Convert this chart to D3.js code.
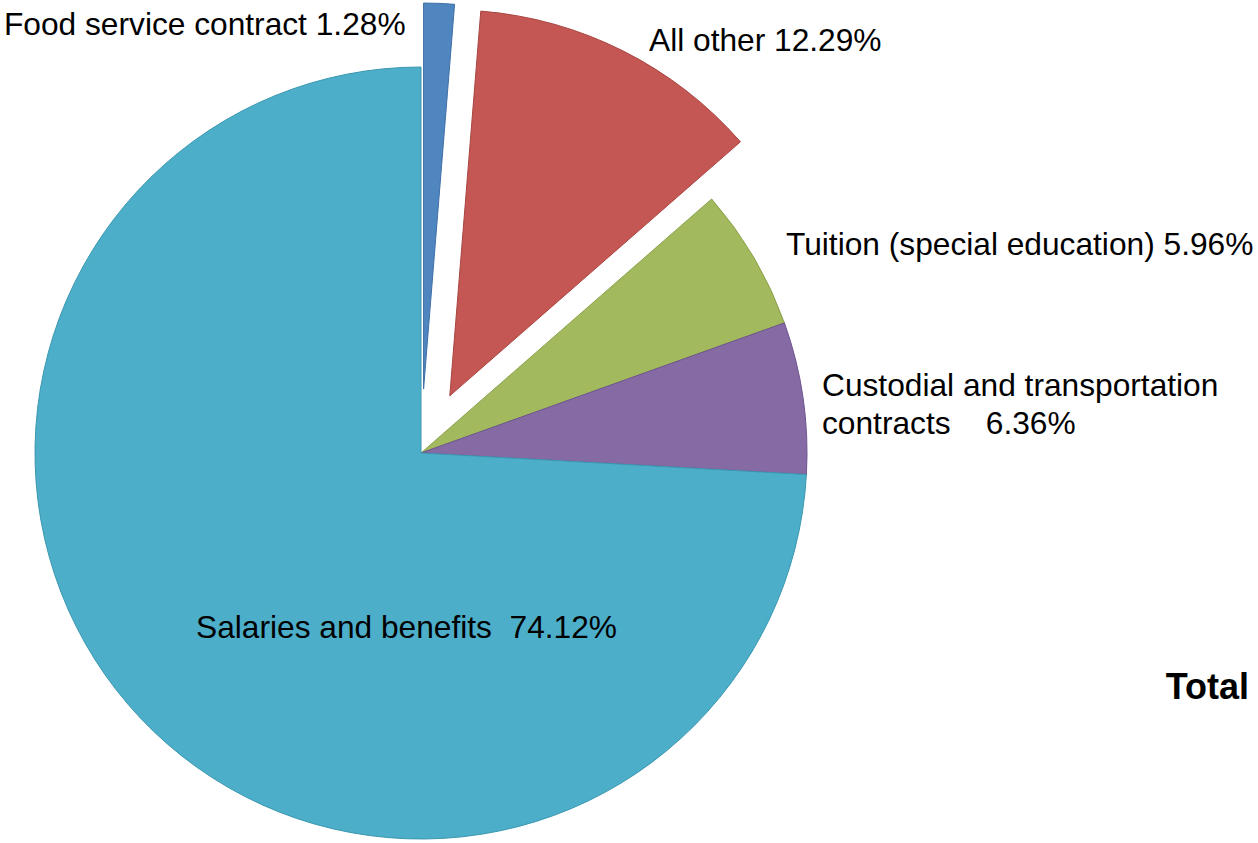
<!DOCTYPE html>
<html>
<head>
<meta charset="utf-8">
<script src="https://cdn.jsdelivr.net/npm/d3@7"></script>
<style>
  html, body { margin: 0; padding: 0; background: #ffffff; }
  svg { display: block; }
  text { font-family: "Liberation Sans", Arial, sans-serif; fill: #000; white-space: pre; }
</style>
</head>
<body>
<svg id="chart" width="1258" height="843"></svg>
<script>
// Spending categories, shares of total (percent), clockwise from 12 o'clock
const categories = [
  "Food service contract",
  "All other",
  "Tuition (special education)",
  "Custodial and transportation contracts",
  "Salaries and benefits"
];
const shares = [1.28, 12.29, 5.96, 6.36, 74.12];
const exploded = [true, true, false, false, false];
const title = "Total";

// Label text lines, with the share appended as drawn
const labelLines = [
  [v => `Food service contract ${v}%`],
  [v => `All other ${v}%`],
  [v => `Tuition (special education) ${v}%`],
  [() => "Custodial and transportation", v => `contracts    ${v}%`],
  [v => `Salaries and benefits  ${v}%`]
];

const fills   = ["#5086c0", "#c45753", "#a2b95e", "#866aa4", "#4daec9"];
const strokes = ["#3f6fa6", "#a84542", "#8aa24a", "#6e5490", "#3a97b0"];

// Label anchors (start x, first baseline y)
const labelPos = [
  [4, 35], [649, 51], [786, 255], [822, 396], [196, 638]
];

const svg = d3.select("#chart");
const cx = 421, cy = 453, radius = 386, explode = 64;

const data = categories.map((c, i) => ({ name: c, value: shares[i], i }));

const pie = d3.pie().sort(null).value(d => d.value);
const arc = d3.arc().innerRadius(0).outerRadius(radius);
const arcs = pie(data);

const g = svg.append("g").attr("transform", `translate(${cx},${cy})`);

g.selectAll("path.slice")
  .data(arcs)
  .join("path")
  .attr("class", "slice")
  .attr("d", arc)
  .attr("transform", d => {
    if (!exploded[d.index]) return null;
    const a = (d.startAngle + d.endAngle) / 2;
    return `translate(${explode * Math.sin(a)},${-explode * Math.cos(a)})`;
  })
  .attr("fill", d => fills[d.index])
  .attr("stroke", d => strokes[d.index])
  .attr("stroke-width", 1)
  .attr("stroke-linejoin", "round");

// Slice labels
const labels = svg.append("g").attr("font-size", "31.7px");
data.forEach((d, i) => {
  const [x, y] = labelPos[i];
  const t = labels.append("text").attr("x", x).attr("y", y);
  labelLines[i].forEach((fn, k) => {
    t.append("tspan")
      .attr("x", x)
      .attr("dy", k === 0 ? 0 : 38)
      .text(fn(d.value.toFixed(2)));
  });
});

// Chart title
svg.append("text")
  .attr("x", 1249)
  .attr("y", 699)
  .attr("text-anchor", "end")
  .attr("font-size", "36px")
  .attr("font-weight", "bold")
  .text(title);
</script>
</body>
</html>
